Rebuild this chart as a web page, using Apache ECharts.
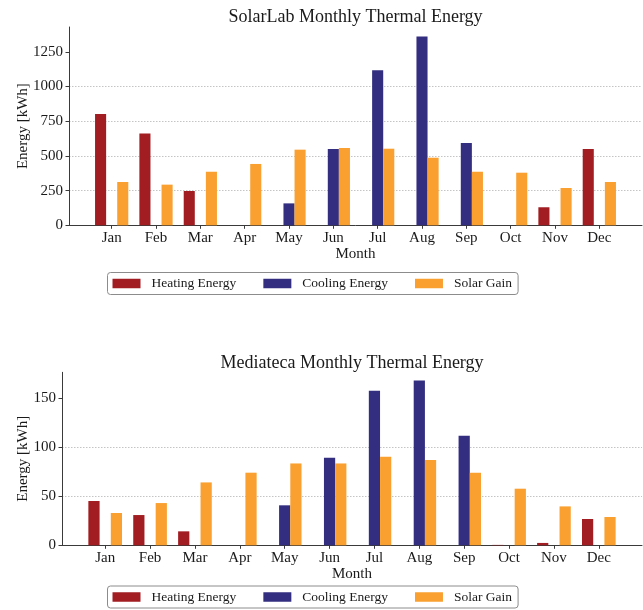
<!DOCTYPE html>
<html>
<head>
<meta charset="utf-8">
<script src="https://cdn.jsdelivr.net/npm/echarts@6/dist/echarts.min.js"></script>
<style>
  html, body { margin: 0; padding: 0; background: #ffffff; }
  #chart { width: 643px; height: 610px; }
</style>
</head>
<body>
<div id="chart"></div>
<script>
// Monthly energy balance per building (kWh)
const months = ['Jan', 'Feb', 'Mar', 'Apr', 'May', 'Jun', 'Jul', 'Aug', 'Sep', 'Oct', 'Nov', 'Dec'];

const solarLabHeating = [802, 662, 247, 0, 0, 0, 0, 0, 0, 0, 130, 550];
const solarLabCooling = [0, 0, 0, 0, 158, 550, 1118, 1361, 593, 0, 0, 0];
const solarLabSolar   = [312, 293, 386, 442, 545, 557, 552, 487, 386, 379, 269, 312];

const mediatecaHeating = [45.1, 30.8, 14.2, 0, 0, 0, 0, 0, 0, 0.4, 2.4, 26.8];
const mediatecaCooling = [0, 0, 0, 0, 40.7, 89.1, 157.2, 167.7, 111.5, 0, 0, 0];
const mediatecaSolar   = [32.9, 43.0, 64.0, 73.9, 83.3, 83.3, 90.1, 86.7, 73.9, 57.6, 39.6, 28.8];

const solarLabTicks  = [0, 250, 500, 750, 1000, 1250];
const mediatecaTicks = [0, 50, 100, 150];

const seriesNames = ['Heating Energy', 'Cooling Energy', 'Solar Gain'];
const colors = ['#A11D22', '#332E80', '#F9A030'];

const FONT = "'Liberation Serif', 'DejaVu Serif', serif";
const INK = '#1a1a1a';
const AXIS = '#3a3a3a';

const monthPositions = months.map((m, i) => i);
// bars sit at -0.25/0/+0.25 around each month, 5% padding on both sides
const xMin = -0.9625, xMax = 11.9625;

function toPairs(values) {
  return values.map((v, i) => [i, v]);
}

function xAxisFor(gridIndex) {
  return {
    type: 'value', gridIndex, min: xMin, max: xMax,
    name: 'Month', nameLocation: 'middle', nameGap: 21, nameMoveOverlap: false,
    nameTextStyle: { fontFamily: FONT, fontSize: 15, color: INK },
    axisLine: { show: true, onZero: false, lineStyle: { color: AXIS, width: 1 } },
    axisTick: { show: true, length: 3.5, customValues: monthPositions, lineStyle: { color: AXIS } },
    axisLabel: {
      customValues: monthPositions, margin: 5,
      formatter: v => months[Math.round(v)] || '',
      fontFamily: FONT, fontSize: 15, color: INK
    },
    splitLine: { show: false }
  };
}

function yAxisFor(gridIndex, values, ticks, interval, nameGap) {
  const top = Math.max(...values) * 1.05;
  return {
    type: 'value', gridIndex, min: 0, max: top, interval,
    name: 'Energy [kWh]', nameLocation: 'middle', nameGap, nameMoveOverlap: false,
    nameTextStyle: { fontFamily: FONT, fontSize: 15, color: INK },
    axisLine: { show: true, onZero: false, lineStyle: { color: AXIS, width: 1 } },
    axisTick: { show: true, length: 3.5, customValues: ticks, lineStyle: { color: AXIS } },
    axisLabel: {
      customValues: ticks, margin: 6,
      formatter: v => String(Math.round(v)),
      fontFamily: FONT, fontSize: 15, color: INK
    },
    splitLine: {
      show: true, showMaxLine: false,
      lineStyle: { color: '#c4c4c4', width: 1, type: [1.5, 1.5] }
    }
  };
}

function barSeries(name, values, axisIndex, color) {
  return {
    type: 'bar', name, data: toPairs(values),
    xAxisIndex: axisIndex, yAxisIndex: axisIndex,
    barWidth: '25%', barGap: '0%',
    itemStyle: { color },
    emphasis: { disabled: true },
    animation: false
  };
}

function legendAt(top) {
  return {
    data: seriesNames, left: 107.5, top,
    orient: 'horizontal', icon: 'rect',
    itemWidth: 28, itemHeight: 9.5, itemGap: 27,
    padding: [4, 6, 4, 5],
    borderColor: '#8c8c8c', borderWidth: 1, borderRadius: 3,
    backgroundColor: '#ffffff',
    textStyle: { fontFamily: FONT, fontSize: 13.5, color: INK, padding: [0, 0, 0, 6] },
    selectedMode: false
  };
}

const chart = echarts.init(document.getElementById('chart'), null, { renderer: 'canvas' });

chart.setOption({
  backgroundColor: '#ffffff',
  animation: false,
  color: colors,
  title: [
    {
      text: 'SolarLab Monthly Thermal Energy', left: 355.5, top: 8, textAlign: 'center', padding: 0,
      textStyle: { fontFamily: FONT, fontSize: 18, fontWeight: 'normal', color: INK }
    },
    {
      text: 'Mediateca Monthly Thermal Energy', left: 352, top: 354, textAlign: 'center', padding: 0,
      textStyle: { fontFamily: FONT, fontSize: 18, fontWeight: 'normal', color: INK }
    }
  ],
  legend: [legendAt(272.5), legendAt(586)],
  grid: [
    { left: 69, right: 1, top: 27, height: 198.3, containLabel: false, outerBoundsMode: 'none' },
    { left: 62, right: 1, top: 372.3, height: 173, containLabel: false, outerBoundsMode: 'none' }
  ],
  xAxis: [xAxisFor(0), xAxisFor(1)],
  yAxis: [
    yAxisFor(0, solarLabHeating.concat(solarLabCooling, solarLabSolar), solarLabTicks, 250, 38.5),
    yAxisFor(1, mediatecaHeating.concat(mediatecaCooling, mediatecaSolar), mediatecaTicks, 50, 31.5)
  ],
  series: [
    barSeries(seriesNames[0], solarLabHeating, 0, colors[0]),
    barSeries(seriesNames[1], solarLabCooling, 0, colors[1]),
    barSeries(seriesNames[2], solarLabSolar, 0, colors[2]),
    barSeries(seriesNames[0], mediatecaHeating, 1, colors[0]),
    barSeries(seriesNames[1], mediatecaCooling, 1, colors[1]),
    barSeries(seriesNames[2], mediatecaSolar, 1, colors[2])
  ]
});
</script>
</body>
</html>
